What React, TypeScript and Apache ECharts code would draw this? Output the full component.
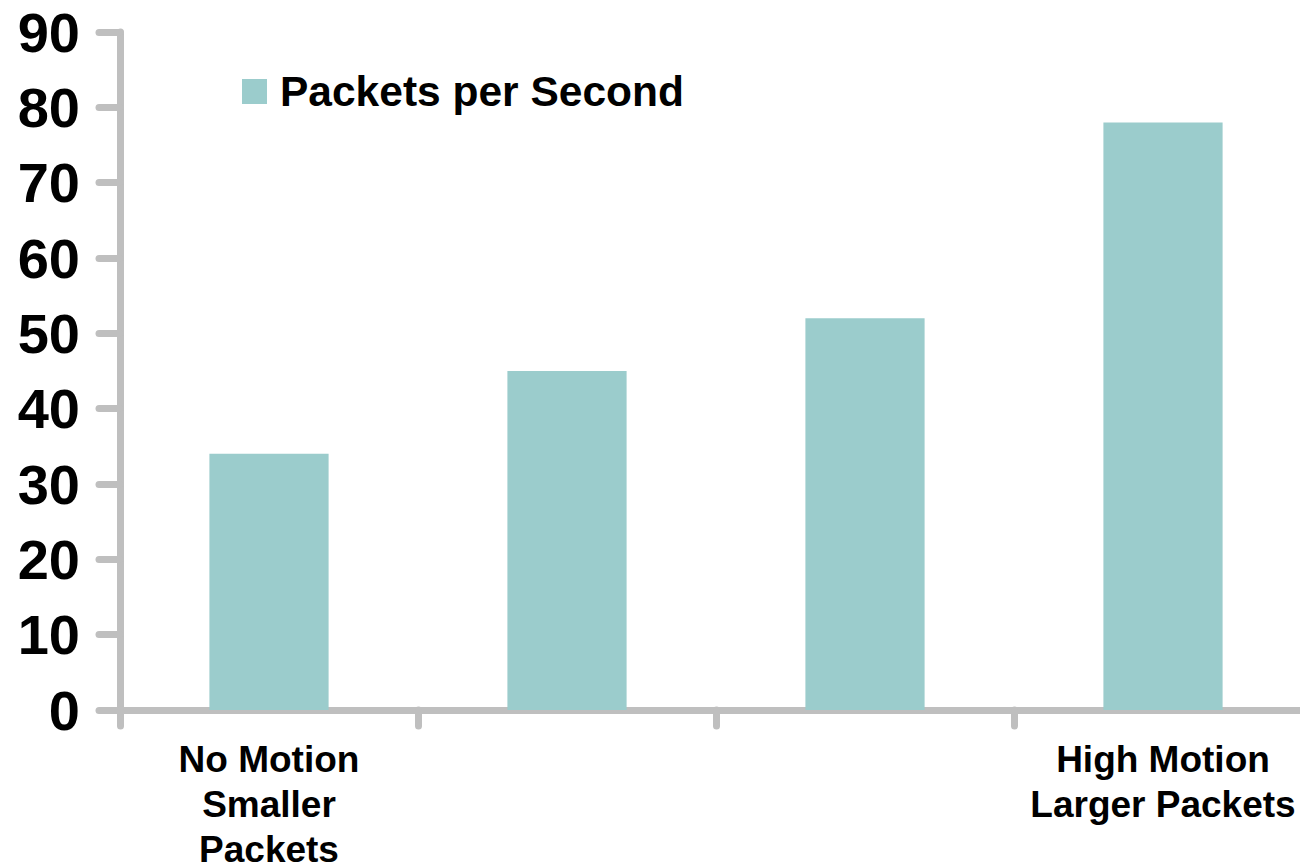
import React, { useEffect, useRef } from "react";
import * as echarts from "echarts";

const categories = ["No Motion\nSmaller\nPackets", "", "", "High Motion\nLarger Packets"];
const packetsPerSecond = [34, 45, 52, 78];
const seriesName = "Packets per Second";
const yMin = 0;
const yMax = 90;
const yInterval = 10;

const FONT = "'Liberation Sans', Arial, sans-serif";
const AXIS_GRAY = "#BFBFBF";
const BAR_COLOR = "#9BCCCC";

export default function App() {
  const ref = useRef<HTMLDivElement>(null);
  useEffect(() => {
    if (!ref.current) return;
    const chart = echarts.init(ref.current, undefined, { renderer: "svg" });
    chart.setOption({
      animation: false,
      backgroundColor: "#ffffff",
      textStyle: { fontFamily: FONT },
      legend: {
        show: true,
        left: 237,
        top: 65,
        itemWidth: 25,
        itemHeight: 25,
        itemGap: 15,
        icon: "rect",
        data: [seriesName],
        textStyle: { fontFamily: FONT, fontSize: 42.5, fontWeight: "bold", color: "#000", padding: [0, 0, 0, 8] },
      },
      grid: { left: 120, right: -12, top: 32, bottom: 155, containLabel: false, outerBoundsMode: "none" },
      xAxis: {
        type: "category",
        data: categories,
        axisLine: { show: true, lineStyle: { color: AXIS_GRAY, width: 7, cap: "round" } },
        axisTick: { show: true, length: 16, lineStyle: { color: AXIS_GRAY, width: 7, cap: "round" } },
        axisLabel: {
          interval: 0,
          margin: 27,
          fontFamily: FONT,
          fontSize: 37,
          fontWeight: "bold",
          lineHeight: 45,
          color: "#000",
        },
        splitLine: { show: false },
      },
      yAxis: {
        type: "value",
        min: yMin,
        max: yMax,
        interval: yInterval,
        axisLine: { show: true, lineStyle: { color: AXIS_GRAY, width: 7, cap: "round" } },
        axisTick: { show: true, length: 21, lineStyle: { color: AXIS_GRAY, width: 7, cap: "round" } },
        axisLabel: {
          margin: 40,
          fontFamily: FONT,
          fontSize: 56,
          fontWeight: "bold",
          color: "#000",
        },
        splitLine: { show: false },
      },
      series: [
        {
          name: seriesName,
          type: "bar",
          data: packetsPerSecond,
          barWidth: "40%",
          itemStyle: { color: BAR_COLOR },
        },
      ],
    });
    return () => chart.dispose();
  }, []);
  return (
    <div
      ref={ref}
      style={{ position: "absolute", left: 0, top: 0, width: 1300, height: 865 }}
    />
  );
}
